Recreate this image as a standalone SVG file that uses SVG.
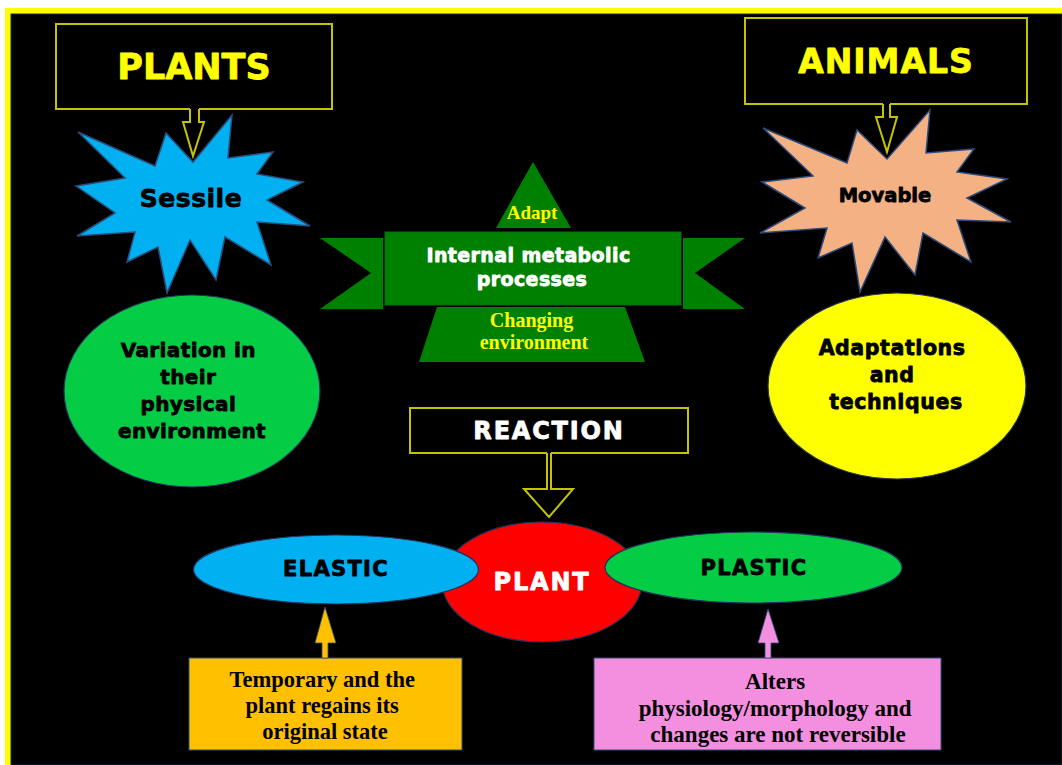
<svg xmlns="http://www.w3.org/2000/svg" width="1062" height="765" viewBox="0 0 1062 765">
<style>
.hd{font-family:"DejaVu Sans","Liberation Sans",sans-serif;font-weight:bold;text-anchor:middle;stroke-width:0.8;stroke-linejoin:round}
.sf{font-family:"Liberation Serif","Times New Roman",serif;font-weight:bold;text-anchor:middle}
.box{fill:#000;stroke:#c4c400;stroke-width:2}
.burst{stroke:#2c4a7a;stroke-width:1.5;stroke-linejoin:miter}
.ell{stroke:#23335a;stroke-width:1.2}
.bx{stroke:#2f4f7f;stroke-width:1}
.ylw{fill:#ffff00}
.blk{fill:#000}
.wht{fill:#fff}
.hd.ylw{stroke:#ffff00}
.hd.blk{stroke:#000}
.hd.wht{stroke:#fff}
</style>
<rect width="1062" height="765" fill="#fff"/>
<rect x="5" y="8" width="1057" height="757" fill="#ffff00"/>
<rect x="11" y="14" width="1051" height="751" fill="#000" stroke="#1f2f4f" stroke-width="1"/>

<g id="plants">
<rect class="box" x="56" y="24" width="276" height="85"/>
<text class="hd ylw" x="194" y="79" font-size="35">PLANTS</text>
</g>
<g id="animals">
<rect class="box" x="745" y="18" width="282" height="86"/>
<text class="hd ylw" x="886" y="73" font-size="33" letter-spacing="1">ANIMALS</text>
</g>
<g id="sessile">
<polygon class="burst" fill="#00b0f0" points="78,132 155,166 166,133 193,162 232,115 228,158 273,152 257,174 303,182 267,200 310,226 257,222 271,265 225,237 216,280 190,240 167,293 158,247 127,262 135,232 77,236 115,213 76,186 125,178"/>
<text class="hd blk" x="191" y="207" font-size="25" letter-spacing="0.5">Sessile</text>
</g>
<g id="movable">
<polygon class="burst" fill="#f4b183" points="763,128 847,163 857,130 887,159 930,110 926,153 974,149 957,172 1007,179 967,198 1011,222 957,220 971,262 923,233 915,275 885,237 860,292 852,243 818,258 827,228 760,233 805,208 762,182 813,176"/>
<text class="hd blk" x="885" y="202" font-size="19.5">Movable</text>
</g>
<g id="variation">
<ellipse class="ell" cx="192" cy="391" rx="128" ry="96" fill="#05cc45"/>
<text class="hd blk" font-size="20" letter-spacing="0.4">
<tspan x="192" y="357">Variation in</tspan>
<tspan x="192" y="384">their</tspan>
<tspan x="192" y="411">physical</tspan>
<tspan x="192" y="438">environment</tspan>
</text>
</g>
<g id="adaptations">
<ellipse class="ell" cx="897" cy="386" rx="129" ry="93" fill="#ffff00"/>
<text class="hd blk" font-size="20.5" letter-spacing="0.6">
<tspan x="896" y="355">Adaptations</tspan>
<tspan x="896" y="382">and</tspan>
<tspan x="896" y="409">techniques</tspan>
</text>
</g>
<g id="banner">
<polygon fill="#008000" points="533,162 571,228 496,228"/>
<polygon fill="#008000" points="437,307 625,307 645,362 419,362"/>
<polygon fill="#008000" points="320,238 383,238 383,309 320,309 371,273"/>
<polygon fill="#008000" points="683,238 745,238 695,273 745,309 683,309"/>
<rect x="385" y="232" width="296" height="73" fill="#008000" stroke="#0f6a0f" stroke-width="1"/>
<text class="sf ylw" x="532" y="219" font-size="19">Adapt</text>
<text class="hd wht" font-size="19" letter-spacing="0.4">
<tspan x="532" y="262">Internal metabolic</tspan>
<tspan x="532" y="286">processes</tspan>
</text>
<text class="sf ylw" font-size="20">
<tspan x="534" y="327">Changing</tspan>
<tspan x="534" y="349">environment</tspan>
</text>
</g>
<g id="reaction">
<rect class="box" x="410" y="408" width="278" height="45"/>
<text class="hd wht" x="549" y="439" font-size="24" letter-spacing="1.8">REACTION</text>
</g>
<g id="plant">
<ellipse class="ell" cx="542" cy="582" rx="100" ry="60" fill="#ff0000"/>
</g>
<g id="elastic">
<ellipse class="ell" cx="336" cy="569.5" rx="142.5" ry="34.5" fill="#00b0f0"/>
<text class="hd blk" x="336" y="576" font-size="21" letter-spacing="1.3">ELASTIC</text>
</g>
<g id="plastic">
<ellipse class="ell" cx="753.5" cy="567.5" rx="148.5" ry="35.5" fill="#05cc45"/>
<text class="hd blk" x="754" y="575" font-size="21" letter-spacing="1.3">PLASTIC</text>
</g>
<g id="plant-label">
<text class="hd wht" x="542" y="590" font-size="24" letter-spacing="1.8">PLANT</text>
</g>
<g id="temporary">
<rect class="bx" x="189" y="658" width="273" height="92" fill="#ffc000"/>
<text class="sf blk" font-size="22.5">
<tspan x="325" y="687">Temporary and the</tspan>
<tspan x="325" y="713">plant regains its</tspan>
<tspan x="325" y="739">original state</tspan>
</text>
</g>
<g id="alters">
<rect class="bx" x="594" y="658" width="347" height="92" fill="#f48fe0"/>
<text class="sf blk" font-size="23">
<tspan x="778" y="689">Alters</tspan>
<tspan x="778" y="716">physiology/morphology and</tspan>
<tspan x="778" y="742">changes are not reversible</tspan>
</text>
</g>

<g id="connectors">
<rect x="190" y="106" width="9" height="5" fill="#000"/>
<path d="M190,109 V122 H183 L193,156 L204,122 H199 V109" fill="#000" stroke="#c4c400" stroke-width="2" stroke-linejoin="miter"/>
<rect x="883" y="101" width="7" height="5" fill="#000"/>
<path d="M883,104 V117 H876 L887,152 L897,117 H890 V104" fill="#000" stroke="#c4c400" stroke-width="2" stroke-linejoin="miter"/>
<rect x="547" y="450" width="4" height="5" fill="#000"/>
<path d="M547,453 V489 H524 L549,517 L573,489 H551 V453" fill="#000" stroke="#c4c400" stroke-width="2" stroke-linejoin="miter"/>
<polygon points="322,658 322,643 315,643 325,607 336,643 328,643 328,658" fill="#ffc000" stroke="#2f4f7f" stroke-width="0.8"/>
<polygon points="765,658 765,643 758,643 768,609 779,643 771,643 771,658" fill="#f48fe0" stroke="#2f4f7f" stroke-width="0.8"/>
</g>
</svg>
